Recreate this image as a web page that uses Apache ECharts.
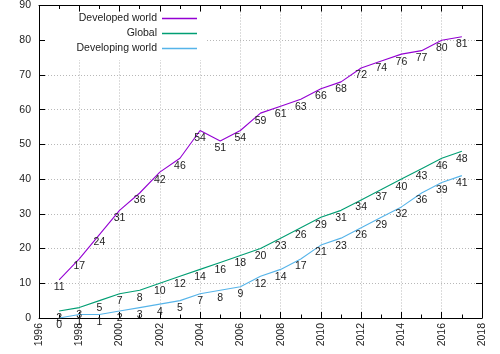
<!DOCTYPE html>
<html>
<head>
<meta charset="utf-8">
<script src="https://cdn.jsdelivr.net/npm/echarts@6/dist/echarts.min.js"></script>
<style>
html, body { margin: 0; padding: 0; background: #fff; }
#chart { width: 500px; height: 354px; }
</style>
</head>
<body>
<div id="chart"></div>
<script>
// 年份
var years = [1997, 1998, 1999, 2000, 2001, 2002, 2003, 2004, 2005, 2006, 2007, 2008, 2009, 2010, 2011, 2012, 2013, 2014, 2015, 2016, 2017];
// Developed world
var developedData = [11, 17, 24, 31, 36, 42, 46, 54, 51, 54, 59, 61, 63, 66, 68, 72, 74, 76, 77, 80, 81];
// Global
var globalData = [2, 3, 5, 7, 8, 10, 12, 14, 16, 18, 20, 23, 26, 29, 31, 34, 37, 40, 43, 46, 48];
// Developing world
var developingData = [0, 1, 1, 2, 3, 4, 5, 7, 8, 9, 12, 14, 17, 21, 23, 26, 29, 32, 36, 39, 41];

var seriesNames = ['Developed world', 'Global', 'Developing world'];
var seriesColors = ['#9400d3', '#009e73', '#56b4e9'];

var fontName = 'Liberation Sans';
var gridColor = '#b8b8b8';

function pairs(vals) {
    return years.map(function (y, i) { return [y, vals[i]]; });
}

function makeSeries(name, color, vals) {
    return {
        name: name,
        type: 'line',
        data: pairs(vals),
        symbol: 'circle',
        symbolSize: 0,
        z: 3,
        lineStyle: { color: color, width: 1.1 },
        itemStyle: { color: color },
        label: {
            show: true,
            position: 'bottom',
            distance: 2,
            color: '#222',
            fontFamily: fontName,
            fontSize: 10.5,
            formatter: function (p) { return p.value[1]; }
        },
        emphasis: { disabled: true },
        animation: false
    };
}

// 图例：文字在左，线条在右
function makeLegend(name, top) {
    return {
        show: true,
        right: 303,
        top: top,
        align: 'right',
        padding: 0,
        itemWidth: 35,
        itemHeight: 1.5,
        icon: 'rect',
        z: 5,
        textStyle: { fontFamily: fontName, fontSize: 10.5, color: '#222' },
        data: [name]
    };
}

var chart = echarts.init(document.getElementById('chart'));
var option = {
    animation: false,
    grid: { left: 39, right: 18, top: 5, bottom: 36 },
    graphic: [{
        type: 'rect',
        shape: { x: 45, y: 12, width: 160, height: 48 },
        style: { fill: '#fff' },
        z: 1
    }],
    legend: [
        makeLegend(seriesNames[0], 13),
        makeLegend(seriesNames[1], 28),
        makeLegend(seriesNames[2], 43)
    ],
    xAxis: [{
        type: 'value',
        min: 1996,
        max: 2018,
        interval: 2,
        axisLine: { show: true, onZero: false, lineStyle: { color: '#000', width: 1 } },
        axisTick: { show: true, inside: true, length: 6, lineStyle: { color: '#000' } },
        minorTick: { show: true, splitNumber: 2, length: 3.5, lineStyle: { color: '#000' } },
        splitLine: { show: true, lineStyle: { color: gridColor, type: [1, 2] } },
        axisLabel: {
            rotate: 90, margin: 5, color: '#222', fontFamily: fontName, fontSize: 10.5,
            showMinLabel: true, showMaxLabel: true,
            formatter: function (v) { return String(v); }
        }
    }, {
        type: 'value',
        position: 'top',
        min: 1996,
        max: 2018,
        interval: 2,
        axisLine: { show: true, onZero: false, lineStyle: { color: '#000', width: 1 } },
        axisTick: { show: true, inside: true, length: 6, lineStyle: { color: '#000' } },
        minorTick: { show: true, splitNumber: 2, length: 3.5, lineStyle: { color: '#000' } },
        splitLine: { show: false },
        axisLabel: { show: false }
    }],
    yAxis: [{
        type: 'value',
        min: 0,
        max: 90,
        interval: 10,
        axisLine: { show: true, onZero: false, lineStyle: { color: '#000', width: 1 } },
        axisTick: { show: true, inside: true, length: 6, lineStyle: { color: '#000' } },
        splitLine: { show: true, lineStyle: { color: gridColor, type: [1, 2] } },
        axisLabel: { margin: 8, color: '#222', fontFamily: fontName, fontSize: 10.5 }
    }, {
        type: 'value',
        position: 'right',
        min: 0,
        max: 90,
        interval: 10,
        axisLine: { show: true, onZero: false, lineStyle: { color: '#000', width: 1 } },
        axisTick: { show: true, inside: true, length: 6, lineStyle: { color: '#000' } },
        splitLine: { show: false },
        axisLabel: { show: false }
    }],
    series: [
        makeSeries(seriesNames[0], seriesColors[0], developedData),
        makeSeries(seriesNames[1], seriesColors[1], globalData),
        makeSeries(seriesNames[2], seriesColors[2], developingData)
    ]
};
chart.setOption(option);
</script>
</body>
</html>
